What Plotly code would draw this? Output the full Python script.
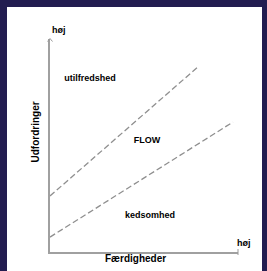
import plotly.graph_objects as go

# Data (abstract units: skills 0..10, challenges 0..10)
upper_line_x = [0, 7.87]
upper_line_y = [2.63, 8.69]
lower_line_x = [0, 9.73]
lower_line_y = [0.70, 6.10]

region_labels = ["utilfredshed", "FLOW", "kedsomhed"]
region_x = [2.13, 5.16, 5.32]
region_y = [8.12, 5.21, 1.69]

x_title = "Færdigheder"
y_title = "Udfordringer"
high_label = "høj"

W, H = 267, 271
L, R, T, B = 50, 29, 39, 19
pw, ph = W - L - R, H - T - B

def px_x(p):
    return (p - L) / pw

def px_y(p):
    return (H - B - p) / ph

FONT = "Liberation Sans"
fig = go.Figure()
dash_style = dict(color="#8f8f8f", width=1.3, dash="6px,3px")
fig.add_trace(go.Scatter(x=upper_line_x, y=upper_line_y, mode="lines",
                         line=dash_style, hoverinfo="skip", showlegend=False))
fig.add_trace(go.Scatter(x=lower_line_x, y=lower_line_y, mode="lines",
                         line=dash_style, hoverinfo="skip", showlegend=False))
fig.add_trace(go.Scatter(x=region_x, y=region_y, mode="text", text=region_labels,
                         textfont=dict(family=FONT, size=9, color="#000"),
                         texttemplate="<b>%{text}</b>",
                         hoverinfo="skip", showlegend=False))

shapes = [
    dict(type="rect", xref="paper", yref="paper", layer="below",
         x0=px_x(7), x1=px_x(262), y0=px_y(7), y1=px_y(275),
         fillcolor="white", line=dict(width=0)),
    # y axis arrow cap
    dict(type="path", xref="paper", yref="paper",
         path=f"M {px_x(47.5)} {px_y(41.5)} L {px_x(50)} {px_y(38.5)} L {px_x(52.5)} {px_y(41.5)}",
         line=dict(color="#9a9a9a", width=1)),
    # x axis end tick
    dict(type="line", xref="paper", yref="paper",
         x0=px_x(238), x1=px_x(238), y0=px_y(249), y1=px_y(255),
         line=dict(color="#9a9a9a", width=1)),
]

annotations = [
    dict(text=f"<b>{high_label}</b>", xref="paper", yref="paper",
         x=px_x(50), y=px_y(23), showarrow=False,
         font=dict(family=FONT, size=9, color="#000")),
    dict(text=f"<b>{high_label}</b>", xref="paper", yref="paper",
         x=px_x(253), y=px_y(249.5), showarrow=False,
         font=dict(family=FONT, size=9, color="#000")),
    dict(text=f"<b>{x_title}</b>", xref="paper", yref="paper",
         x=px_x(135.5), y=px_y(265.5), showarrow=False,
         font=dict(family=FONT, size=10, color="#000")),
    dict(text=f"<b>{y_title}</b>", xref="paper", yref="paper",
         x=px_x(27), y=px_y(132), showarrow=False, textangle=-90,
         font=dict(family=FONT, size=10, color="#000")),
]

axis_common = dict(range=[0, 10], showgrid=False, zeroline=False, showticklabels=False,
                   ticks="", showline=True, linecolor="#a0a0a0", linewidth=2,
                   fixedrange=True)

fig.update_layout(
    width=W, height=H,
    margin=dict(l=L, r=R, t=T, b=B, pad=0),
    paper_bgcolor="#221c50",
    plot_bgcolor="white",
    xaxis=axis_common,
    yaxis=axis_common,
    shapes=shapes,
    annotations=annotations,
    showlegend=False,
)

fig.write_html("out.html", config={"displayModeBar": False},
               post_script="document.body.style.margin='0';document.body.style.padding='0';document.body.style.overflow='hidden';document.body.style.background='#221c50';")
